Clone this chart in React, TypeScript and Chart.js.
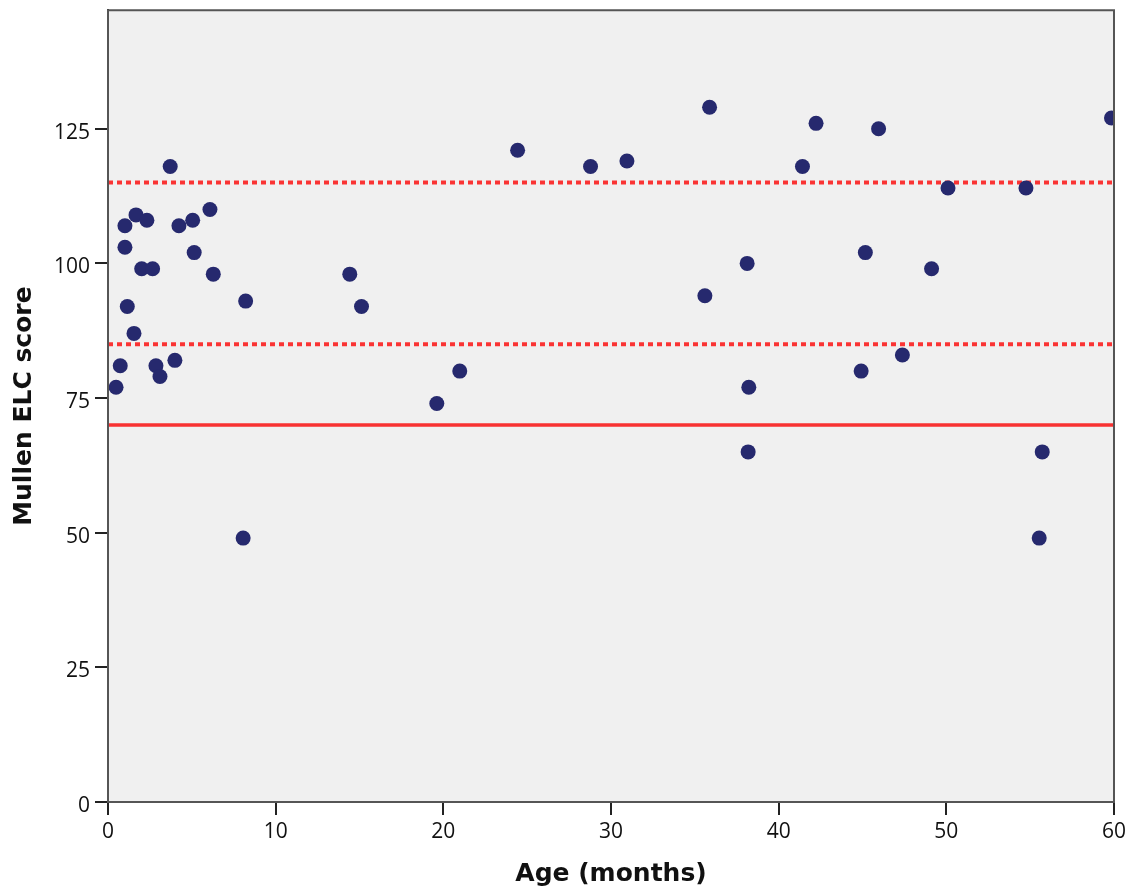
import { useEffect, useRef } from "react";
import { Chart, registerables } from "chart.js";

Chart.register(...registerables);

// Age in months of each child
const ageMonths = [
  0.48, 0.73, 1.01, 1.01, 1.15, 1.55, 1.67, 2.01, 2.32, 2.66, 2.86, 3.1,
  3.71, 3.99, 4.23, 5.05, 5.14, 6.08, 6.28, 8.21, 8.06, 14.42, 15.12, 19.61,
  20.98, 24.43, 28.78, 30.95, 35.88, 35.6, 38.12, 38.22, 38.18, 41.42, 42.23,
  45.96, 45.17, 44.92, 47.38, 49.12, 50.1, 54.75, 55.54, 55.72, 59.85,
];
// Mullen ELC score of each child
const mullenScores = [
  77, 81, 107, 103, 92, 87, 109, 99, 108, 99, 81, 79,
  118, 82, 107, 108, 102, 110, 98, 93, 49, 98, 92, 74,
  80, 121, 118, 119, 129, 94, 100, 77, 65, 118, 126,
  125, 102, 80, 83, 99, 114, 114, 49, 65, 127,
];
// Reference lines
const dottedRefLines = [115, 85];
const solidRefLines = [70];
const xRange = [0, 60];
const yRange = [0, 147];

const plotFrame = {
  id: "plotFrame",
  beforeDatasetsDraw(chart: any) {
    const { ctx, chartArea: a } = chart;
    ctx.save();
    ctx.fillStyle = "#f0f0f0";
    ctx.fillRect(a.left, a.top, a.right - a.left, a.bottom - a.top);
    ctx.restore();
  },
  afterDatasetsDraw(chart: any) {
    const { ctx, chartArea: a } = chart;
    ctx.save();
    ctx.strokeStyle = "#555";
    ctx.lineWidth = 2;
    ctx.strokeRect(a.left, a.top, a.right - a.left, a.bottom - a.top);
    ctx.restore();
  },
};

export default function App() {
  const ref = useRef<HTMLCanvasElement>(null);

  useEffect(() => {
    if (!ref.current) return;
    const points = ageMonths.map((x, i) => ({ x, y: mullenScores[i] }));
    const lineSets: any[] = [];
    dottedRefLines.forEach((v) =>
      lineSets.push({
        type: "line",
        data: [
          { x: xRange[0], y: v },
          { x: xRange[1], y: v },
        ],
        borderColor: "#fa3434",
        borderWidth: 4,
        borderDash: [5, 4],
        pointRadius: 0,
        showLine: true,
        fill: false,
      })
    );
    solidRefLines.forEach((v) =>
      lineSets.push({
        type: "line",
        data: [
          { x: xRange[0], y: v },
          { x: xRange[1], y: v },
        ],
        borderColor: "#f83232",
        borderWidth: 3.5,
        pointRadius: 0,
        showLine: true,
        fill: false,
      })
    );

    const chart = new Chart(ref.current, {
      type: "scatter",
      data: {
        datasets: [
          {
            data: points,
            backgroundColor: "#26296e",
            borderColor: "#26296e",
            pointRadius: 7.5,
            pointHoverRadius: 7.5,
            borderWidth: 0,
            clip: 0,
          } as any,
          ...lineSets,
        ],
      },
      options: {
        animation: false,
        responsive: false,
        maintainAspectRatio: false,
        layout: { padding: { left: 0, right: 15, top: 10, bottom: 0 } },
        plugins: {
          legend: { display: false },
          tooltip: { enabled: false },
        },
        scales: {
          x: {
            type: "linear",
            min: xRange[0],
            max: xRange[1],
            afterFit: (s: any) => {
              s.height = 89;
            },
            ticks: {
              stepSize: 10,
              includeBounds: false,
              color: "#111",
              padding: 4,
              font: { family: "Open Sans", size: 21 },
            },
            grid: {
              display: true,
              drawOnChartArea: false,
              drawTicks: true,
              tickLength: 13,
              color: "#222",
              lineWidth: 2,
            },
            border: { display: true, color: "#222", width: 2 },
            title: {
              display: true,
              text: "Age (months)",
              color: "#111",
              font: { family: "DejaVu Sans", size: 25, weight: "bold" },
              padding: { top: 0, bottom: 2 },
            },
          },
          y: {
            type: "linear",
            min: yRange[0],
            max: yRange[1],
            afterFit: (s: any) => {
              s.width = 108;
            },
            ticks: {
              stepSize: 25,
              includeBounds: false,
              color: "#111",
              padding: 5,
              labelOffset: 4,
              font: { family: "Open Sans", size: 21, lineHeight: 0.5 },
            },
            grid: {
              display: true,
              drawOnChartArea: false,
              drawTicks: true,
              tickLength: 13,
              color: "#222",
              lineWidth: 2,
            },
            border: { display: true, color: "#222", width: 2 },
            title: {
              display: true,
              text: "Mullen ELC score",
              color: "#111",
              font: { family: "DejaVu Sans", size: 25, weight: "bold" },
              padding: { top: 9, bottom: 0 },
            },
          },
        },
      },
      plugins: [plotFrame],
    } as any);
    return () => chart.destroy();
  }, []);

  return (
    <div style={{ position: "fixed", left: 0, top: 0, width: 1130, height: 891, background: "#fff" }}>
      <canvas ref={ref} width={1130} height={891} style={{ width: 1130, height: 891, display: "block" }} />
    </div>
  );
}
